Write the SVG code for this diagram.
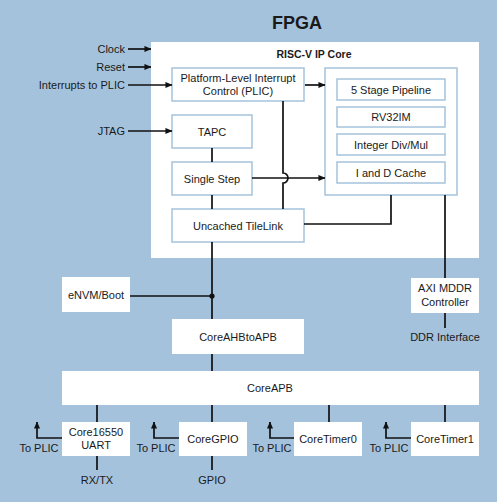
<svg xmlns="http://www.w3.org/2000/svg" width="499" height="504" viewBox="0 0 499 504">
<defs>
<style>
text{font-family:"Liberation Sans",Arial,sans-serif;font-size:11px;fill:#1a1a1a}
.c{text-anchor:middle}
.r{text-anchor:end}
.b{font-weight:bold}
.bx{fill:#fff;stroke:#a5c2dc;stroke-width:1.5}
.wb{fill:#fff}
.ln{fill:none;stroke:#111;stroke-width:1.7}
.ar{fill:none;stroke:#111;stroke-width:1.7;marker-end:url(#ah)}
</style>
<marker id="ah" viewBox="0 0 8 8" refX="7.5" refY="4" markerWidth="7" markerHeight="7" markerUnits="userSpaceOnUse" orient="auto"><path d="M0,0.5 L8,4 L0,7.5 Z" fill="#111"/></marker>
</defs>
<rect x="0" y="0" width="497" height="502" fill="#a5c2dc"/>
<text class="c b" x="297" y="29" style="font-size:18px">FPGA</text>
<g id="riscv-core">
<rect x="151" y="42" width="328" height="216" class="wb"/>
<text class="c b" x="314" y="58" style="font-size:10.5px">RISC-V IP Core</text>
</g>
<g id="plic"><rect class="bx" x="172" y="68" width="132" height="33"/><text class="c" x="238" y="81.5">Platform-Level Interrupt</text><text class="c" x="238" y="95">Control (PLIC)</text></g>
<g id="tapc"><rect class="bx" x="172" y="115" width="80" height="33"/><text class="c" x="212" y="135.5">TAPC</text></g>
<g id="single-step"><rect class="bx" x="172" y="162" width="80" height="33"/><text class="c" x="212" y="182.5">Single Step</text></g>
<g id="tilelink"><rect class="bx" x="172" y="209" width="132" height="33"/><text class="c" x="238" y="229.5">Uncached TileLink</text></g>
<g id="cpu-block"><rect class="bx" x="325" y="68" width="132" height="127"/></g>
<g id="pipeline"><rect class="bx" x="337" y="79" width="108" height="21"/><text class="c" x="391" y="93.5">5 Stage Pipeline</text></g>
<g id="rv32im"><rect class="bx" x="337" y="107" width="108" height="20"/><text class="c" x="391" y="121">RV32IM</text></g>
<g id="divmul"><rect class="bx" x="337" y="134" width="108" height="21"/><text class="c" x="391" y="148.5">Integer Div/Mul</text></g>
<g id="cache"><rect class="bx" x="337" y="162" width="108" height="21"/><text class="c" x="391" y="176.5">I and D Cache</text></g>
<g id="envm"><rect class="wb" x="62" y="277" width="68" height="35"/><text class="c" x="96" y="298.5">eNVM/Boot</text></g>
<g id="axi-mddr"><rect class="wb" x="411" y="278" width="68" height="35"/><text class="c" x="445" y="292">AXI MDDR</text><text class="c" x="445" y="305.5">Controller</text></g>
<g id="ahb2apb"><rect class="wb" x="172" y="319" width="132" height="35"/><text class="c" x="238" y="340.5">CoreAHBtoAPB</text></g>
<g id="coreapb"><rect class="wb" x="62" y="371" width="417" height="34"/><text class="c" x="270" y="392">CoreAPB</text></g>
<g id="uart"><rect class="wb" x="62" y="422" width="68" height="34"/><text class="c" x="96" y="436">Core16550</text><text class="c" x="96" y="449">UART</text></g>
<g id="gpio"><rect class="wb" x="179" y="422" width="68" height="34"/><text class="c" x="213" y="443">CoreGPIO</text></g>
<g id="timer0"><rect class="wb" x="294" y="422" width="68" height="34"/><text class="c" x="328" y="443">CoreTimer0</text></g>
<g id="timer1"><rect class="wb" x="411" y="422" width="68" height="34"/><text class="c" x="445" y="443">CoreTimer1</text></g>
<g id="labels">
<text class="r" x="125" y="53">Clock</text>
<text class="r" x="125" y="71">Reset</text>
<text class="r" x="125" y="89">Interrupts to PLIC</text>
<text class="r" x="125" y="135">JTAG</text>
<text class="c" x="445" y="341">DDR Interface</text>
<text class="c" x="97" y="484">RX/TX</text>
<text class="c" x="212" y="484">GPIO</text>
<text class="c" x="39" y="452">To PLIC</text>
<text class="c" x="156" y="452">To PLIC</text>
<text class="c" x="272" y="452">To PLIC</text>
<text class="c" x="389" y="452">To PLIC</text>
</g>
<g id="connectors">
<path class="ar" d="M128,49 H151"/>
<path class="ar" d="M128,67 H151"/>
<path class="ar" d="M128,85 H172"/>
<path class="ar" d="M128,131 H172"/>
<path class="ar" d="M305,85 H325"/>
<path class="ar" d="M252,178 H325"/>
<path class="ln" d="M283,101 V173 A5,5 0 0 1 283,183 V209"/>
<path class="ln" d="M212,148 V162 M212,195 V209 M212,242 V319 M212,354 V371"/>
<path class="ln" d="M130,296 H212"/>
<circle cx="212" cy="296" r="2.6" fill="#111"/>
<path class="ln" d="M391,195 V224 H304"/>
<path class="ln" d="M445,195 V278 M445,313 V328"/>
<path class="ln" d="M97,405 V422 M97,456 V470"/>
<path class="ln" d="M212,405 V422 M212,456 V470"/>
<path class="ln" d="M329,405 V422"/>
<path class="ln" d="M445,405 V422"/>
<path class="ar" d="M62,438 H37 V422"/>
<path class="ar" d="M179,438 H154 V422"/>
<path class="ar" d="M294,438 H270 V422"/>
<path class="ar" d="M411,438 H386 V422"/>
</g>
</svg>
